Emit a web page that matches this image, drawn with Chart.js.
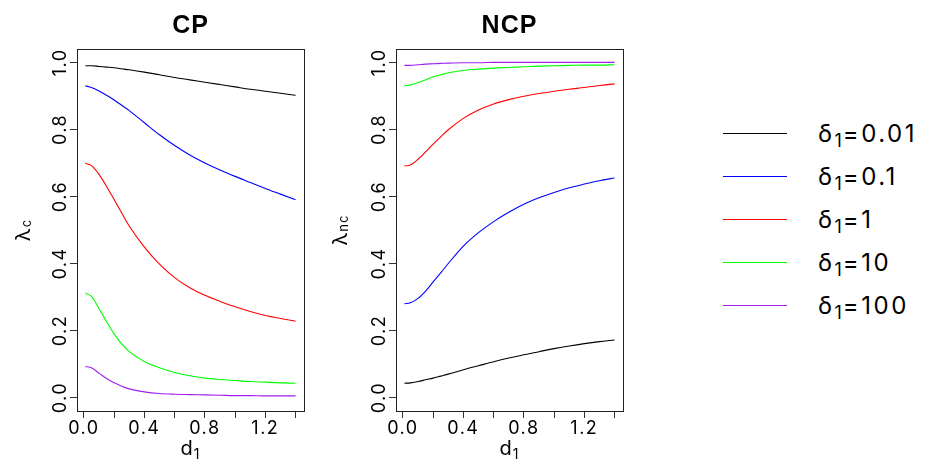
<!DOCTYPE html>
<html>
<head>
<meta charset="utf-8">
<script src="https://cdn.jsdelivr.net/npm/chart.js@4.4.1/dist/chart.umd.min.js"></script>
<style>
  body { margin: 0; background: #fff; }
  #wrap { position: relative; width: 925px; height: 459px; overflow: hidden; }
  canvas { position: absolute; top: 0; }
  #cp { left: 0; }
  #ncp { left: 320px; }
  .key { position: absolute; left: 723px; width: 64px; height: 0; border-top: 1px solid; }
  .txt { position: absolute; left: 818px; font: 24px/24px Inter, sans-serif; letter-spacing: 2.5px; color: #000; white-space: nowrap; }
  .txt span { font-size: 18px; line-height: 1; position: relative; top: 5px; letter-spacing: 1px; }
</style>
</head>
<body>
<div id="wrap">
  <canvas id="cp" width="320" height="459"></canvas>
  <canvas id="ncp" width="320" height="459"></canvas>
</div>
<script>
// d1 grid
const d1 = [0.01, 0.05, 0.1, 0.15, 0.2, 0.25, 0.3, 0.4, 0.5, 0.6, 0.7, 0.8, 0.9, 1.0, 1.1, 1.2, 1.3, 1.4];

// lambda_c (CP) for delta1 = 0.01, 0.1, 1, 10, 100
const lamC_001 = [0.990, 0.990, 0.988, 0.986, 0.984, 0.981, 0.978, 0.971, 0.963, 0.955, 0.948, 0.941, 0.934, 0.927, 0.920, 0.914, 0.908, 0.902];
const lamC_01  = [0.930, 0.925, 0.915, 0.902, 0.888, 0.872, 0.856, 0.820, 0.784, 0.752, 0.724, 0.700, 0.679, 0.660, 0.642, 0.624, 0.607, 0.590];
const lamC_1   = [0.699, 0.692, 0.666, 0.630, 0.591, 0.551, 0.512, 0.449, 0.398, 0.358, 0.328, 0.305, 0.287, 0.271, 0.257, 0.245, 0.236, 0.228];
const lamC_10  = [0.312, 0.302, 0.266, 0.226, 0.190, 0.160, 0.137, 0.108, 0.089, 0.075, 0.065, 0.058, 0.054, 0.051, 0.048, 0.046, 0.044, 0.043];
const lamC_100 = [0.093, 0.089, 0.073, 0.057, 0.044, 0.034, 0.026, 0.017, 0.012, 0.010, 0.009, 0.008, 0.007, 0.006, 0.006, 0.005, 0.005, 0.005];

// lambda_nc (NCP)
const lamNC_001 = [0.043, 0.044, 0.048, 0.053, 0.058, 0.064, 0.070, 0.083, 0.095, 0.107, 0.118, 0.128, 0.137, 0.146, 0.154, 0.161, 0.167, 0.172];
const lamNC_01  = [0.280, 0.283, 0.296, 0.318, 0.345, 0.372, 0.400, 0.452, 0.492, 0.525, 0.553, 0.577, 0.596, 0.612, 0.626, 0.637, 0.647, 0.655];
const lamNC_1   = [0.691, 0.694, 0.711, 0.733, 0.756, 0.778, 0.799, 0.833, 0.858, 0.876, 0.889, 0.899, 0.907, 0.914, 0.920, 0.925, 0.931, 0.936];
const lamNC_10  = [0.930, 0.933, 0.940, 0.948, 0.957, 0.963, 0.969, 0.976, 0.980, 0.983, 0.985, 0.987, 0.989, 0.990, 0.991, 0.992, 0.992, 0.993];
const lamNC_100 = [0.991, 0.991, 0.993, 0.995, 0.996, 0.997, 0.998, 0.999, 0.999, 1.000, 1.000, 1.000, 1.000, 1.000, 1.000, 1.000, 1.000, 1.000];

const deltas = ['0.01', '0.1', '1', '10', '100'];
const colors = ['#000000', '#0000ff', '#ff0000', '#00ff00', '#a020f0'];

const FONT = 'Inter, sans-serif';
const TITLE_FONT = '"Liberation Sans", Arial, sans-serif';

function subLabel(ctx, main, sub, cx, base, size, subSize, drop) {
  ctx.textAlign = 'left';
  ctx.font = size + 'px ' + FONT;
  const w1 = ctx.measureText(main).width;
  ctx.font = subSize + 'px ' + FONT;
  const w2 = ctx.measureText(sub).width;
  const x0 = cx - (w1 + w2) / 2;
  ctx.font = size + 'px ' + FONT;
  ctx.fillText(main, x0, base);
  ctx.font = subSize + 'px ' + FONT;
  ctx.fillText(sub, x0 + w1, base + drop);
}

// frame, panel title and axis titles with subscripts
const panelDecor = {
  id: 'panelDecor',
  beforeLayout(chart) { chart.ctx.letterSpacing = '1.5px'; },
  beforeDraw(chart) { chart.ctx.letterSpacing = '1.5px'; },
  afterDraw(chart, args, opts) {
    const {ctx, chartArea: a} = chart;
    const cx = (a.left + a.right) / 2, cy = (a.top + a.bottom) / 2;
    ctx.save();
    ctx.strokeStyle = '#222';
    ctx.lineWidth = 1;
    ctx.strokeRect(a.left + 0.5, a.top + 0.5, a.right - a.left, a.bottom - a.top);
    ctx.fillStyle = '#000';
    ctx.textBaseline = 'alphabetic';
    ctx.letterSpacing = '1px';
    ctx.font = 'bold 25px ' + TITLE_FONT;
    ctx.textAlign = 'center';
    ctx.fillText(opts.title, cx, 33);
    subLabel(ctx, 'd', '1', cx, 455, 20, 14, 4);
    ctx.translate(opts.ylabX, cy);
    ctx.rotate(-Math.PI / 2);
    subLabel(ctx, 'λ', opts.ysub, 0, 0, 20, 13, 1);
    ctx.restore();
  }
};

function makeSets(series) {
  return series.map((vals, i) => ({
    label: 'δ1=' + deltas[i],
    data: d1.map((x, j) => ({x: x, y: vals[j]})),
    borderColor: colors[i],
    borderWidth: 1.1,
    pointRadius: 0,
    cubicInterpolationMode: 'monotone',
    fill: false
  }));
}

function makeChart(id, series, title, ysub, yWidth, padRight, ylabX) {
  const tickFont = {family: FONT, size: 18};
  return new Chart(document.getElementById(id), {
    type: 'line',
    data: {datasets: makeSets(series)},
    options: {
      responsive: false,
      animation: false,
      events: [],
      layout: {padding: {top: 49, right: padRight, bottom: 0, left: 0}},
      plugins: {
        legend: {display: false},
        tooltip: {enabled: false},
        panelDecor: {title: title, ysub: ysub, ylabX: ylabX}
      },
      scales: {
        x: {
          type: 'linear',
          min: -0.0456,
          max: 1.4556,
          afterFit(s) { s.height = 48; },
          border: {display: false},
          grid: {drawOnChartArea: false, tickLength: 7, color: '#333'},
          ticks: {
            stepSize: 0.2,
            includeBounds: false,
            autoSkip: false,
            maxRotation: 0,
            padding: 0,
            color: '#000',
            font: tickFont,
            callback: v => (Math.round(v * 10) % 4 === 0 ? v.toFixed(1) : '')
          }
        },
        y: {
          min: -0.04,
          max: 1.04,
          afterFit(s) { s.width = yWidth; },
          border: {display: false},
          grid: {drawOnChartArea: false, tickLength: 7, color: '#333'},
          ticks: {
            stepSize: 0.2,
            includeBounds: false,
            minRotation: 90,
            maxRotation: 90,
            crossAlign: 'center',
            padding: -7,
            color: '#000',
            font: tickFont,
            callback: v => v.toFixed(1)
          }
        }
      }
    },
    plugins: [panelDecor]
  });
}

makeChart('cp', [lamC_001, lamC_01, lamC_1, lamC_10, lamC_100], 'CP', 'c', 77, 16, 30);
makeChart('ncp', [lamNC_001, lamNC_01, lamNC_1, lamNC_10, lamNC_100], 'NCP', 'nc', 76, 17, 27);

// legend
const wrap = document.getElementById('wrap');
deltas.forEach((d, i) => {
  const rowY = 132.5 + i * 43;
  const key = document.createElement('div');
  key.className = 'key';
  key.style.top = Math.round(rowY) + 'px';
  key.style.borderTopColor = colors[i];
  wrap.appendChild(key);
  const txt = document.createElement('div');
  txt.className = 'txt';
  txt.style.top = (rowY - 11) + 'px';
  txt.innerHTML = 'δ<span>1</span>=' + d;
  wrap.appendChild(txt);
});
</script>
</body>
</html>
